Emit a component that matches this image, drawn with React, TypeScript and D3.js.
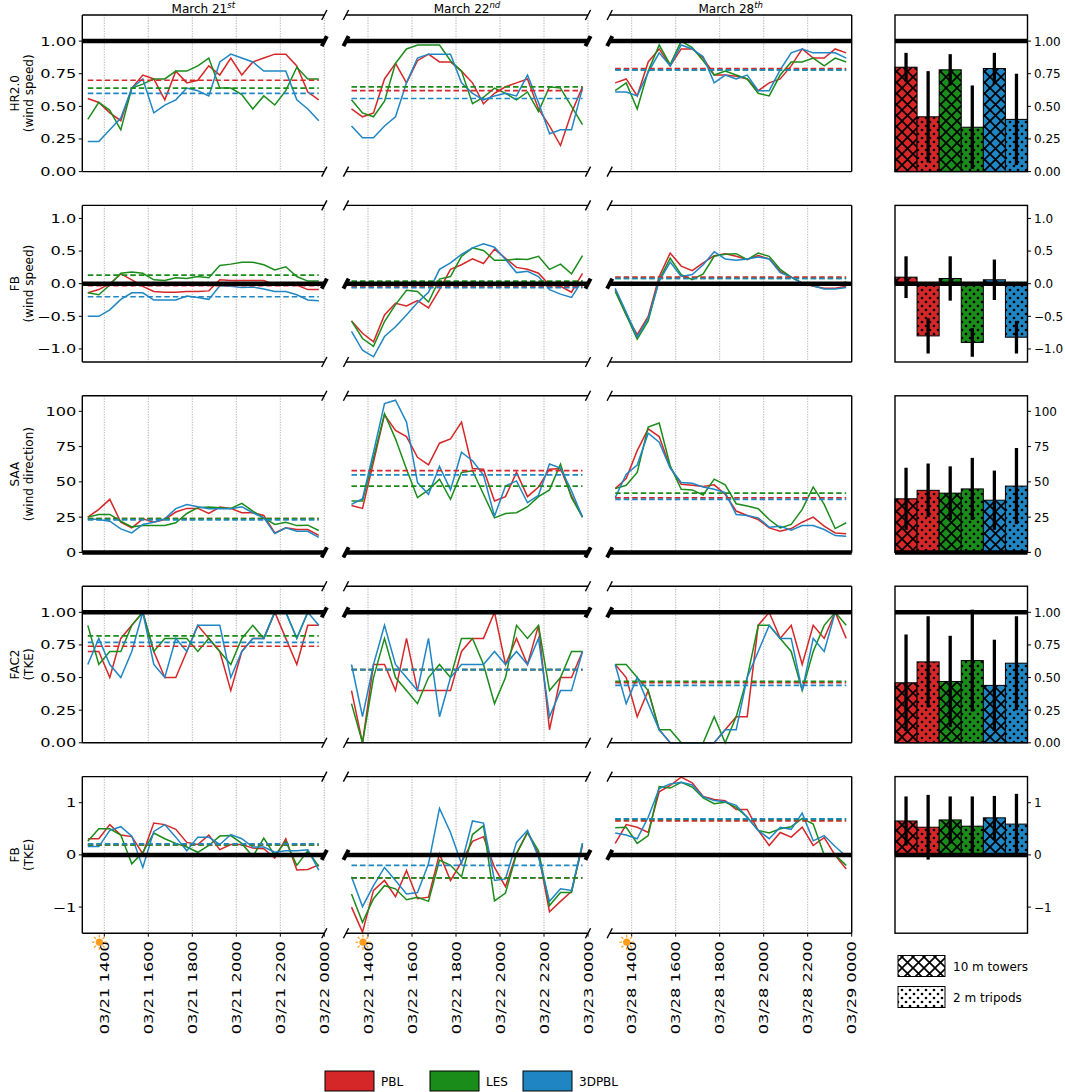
import React from "react";
import * as d3 from "d3";

// ---- data ----
const models = ["PBL", "LES", "3DPBL"];
const modelColors = ["#d62728", "#1a8c1a", "#1f86c3"];
const dayTitles = [["March 21", "st"], ["March 22", "nd"], ["March 28", "th"]];
const tickHours = [14, 16, 18, 20, 22, 24];
const tickLabels = [
  ["03/21 1400", "03/21 1600", "03/21 1800", "03/21 2000", "03/21 2200", "03/22 0000"],
  ["03/22 1400", "03/22 1600", "03/22 1800", "03/22 2000", "03/22 2200", "03/23 0000"],
  ["03/28 1400", "03/28 1600", "03/28 1800", "03/28 2000", "03/28 2200", "03/29 0000"],
];
// half-hourly samples, 13:15 .. 23:45
const sampleHours = d3.range(22).map((i) => 13.25 + 0.5 * i);

const metricNames = [
  ["HR2.0", "(wind speed)"],
  ["FB", "(wind speed)"],
  ["SAA", "(wind direction)"],
  ["FAC2", "(TKE)"],
  ["FB", "(TKE)"],
];
const metricDomains = [[0, 1.2], [-1.2, 1.2], [0, 111], [0, 1.2], [-1.5, 1.5]];
const metricTicks = [
  [0, 0.25, 0.5, 0.75, 1],
  [-1, -0.5, 0, 0.5, 1],
  [0, 25, 50, 75, 100],
  [0, 0.25, 0.5, 0.75, 1],
  [-1, 0, 1],
];
const metricFormats = [".2f", ".1f", "d", ".2f", "d"];
const refValues = [1, 0, 0, 1, 0];

// HR2.0 (wind speed), days 21 / 22 / 28
const hrWindPBL = [
  [0.56, 0.53, 0.45, 0.39, 0.64, 0.74, 0.71, 0.55, 0.77, 0.68, 0.7, 0.81, 0.74, 0.87, 0.74, 0.84, 0.87, 0.9, 0.9, 0.81, 0.61, 0.55],
  [0.48, 0.42, 0.45, 0.71, 0.83, 0.68, 0.85, 0.9, 0.84, 0.84, 0.77, 0.68, 0.52, 0.6, 0.65, 0.68, 0.71, 0.48, 0.35, 0.2, 0.45, 0.65],
  [0.68, 0.71, 0.58, 0.84, 0.94, 0.81, 0.94, 0.94, 0.87, 0.74, 0.74, 0.73, 0.71, 0.62, 0.68, 0.71, 0.81, 0.94, 0.87, 0.87, 0.94, 0.91],
];
const hrWindLES = [
  [0.4, 0.53, 0.47, 0.32, 0.64, 0.67, 0.71, 0.71, 0.77, 0.77, 0.81, 0.87, 0.64, 0.64, 0.59, 0.48, 0.58, 0.51, 0.62, 0.8, 0.71, 0.71],
  [0.55, 0.45, 0.42, 0.54, 0.83, 0.94, 0.97, 0.97, 0.97, 0.85, 0.77, 0.52, 0.57, 0.64, 0.6, 0.55, 0.61, 0.46, 0.65, 0.64, 0.5, 0.36],
  [0.62, 0.68, 0.48, 0.77, 0.97, 0.82, 1.0, 0.95, 0.85, 0.74, 0.77, 0.74, 0.71, 0.6, 0.58, 0.74, 0.84, 0.84, 0.87, 0.81, 0.87, 0.84],
];
const hrWind3D = [
  [0.23, 0.23, 0.32, 0.41, 0.64, 0.71, 0.45, 0.51, 0.55, 0.64, 0.62, 0.58, 0.84, 0.9, 0.87, 0.84, 0.77, 0.77, 0.77, 0.55, 0.48, 0.39],
  [0.35, 0.26, 0.26, 0.35, 0.42, 0.68, 0.87, 0.9, 0.9, 0.9, 0.68, 0.6, 0.55, 0.58, 0.6, 0.58, 0.74, 0.53, 0.29, 0.32, 0.32, 0.64],
  [0.61, 0.61, 0.58, 0.76, 0.91, 0.81, 0.97, 0.94, 0.88, 0.68, 0.74, 0.71, 0.74, 0.62, 0.62, 0.78, 0.91, 0.94, 0.91, 0.91, 0.91, 0.87],
];
const hrWindMeans = [[0.7, 0.62, 0.79], [0.64, 0.65, 0.78], [0.6, 0.56, 0.78]];

// FB (wind speed)
const fbWindPBL = [
  [-0.14, -0.09, 0.0, 0.15, 0.06, -0.04, -0.12, -0.13, -0.13, -0.12, -0.12, -0.11, 0.06, 0.05, 0.05, 0.05, 0.05, -0.02, 0.01, -0.02, -0.09, -0.09],
  [-0.57, -0.76, -0.89, -0.48, -0.3, -0.34, -0.26, -0.37, -0.09, 0.22, 0.29, 0.38, 0.31, 0.53, 0.39, 0.25, 0.22, 0.16, -0.02, -0.04, -0.13, 0.16],
  [-0.09, -0.48, -0.78, -0.5, 0.11, 0.47, 0.27, 0.2, 0.32, 0.43, 0.46, 0.42, 0.37, 0.43, 0.38, 0.19, 0.1, 0.01, -0.04, -0.07, -0.07, -0.04],
];
const fbWindLES = [
  [-0.14, -0.17, -0.02, 0.16, 0.18, 0.16, 0.06, 0.05, 0.09, 0.08, 0.11, 0.09, 0.28, 0.3, 0.33, 0.33, 0.29, 0.21, 0.26, 0.11, 0.04, 0.04],
  [-0.57, -0.84, -0.96, -0.58, -0.32, -0.1, -0.12, -0.28, 0.07, 0.11, 0.42, 0.55, 0.51, 0.36, 0.36, 0.38, 0.37, 0.42, 0.22, 0.3, 0.15, 0.43],
  [-0.12, -0.48, -0.85, -0.57, 0.06, 0.39, 0.14, 0.06, 0.15, 0.42, 0.45, 0.46, 0.37, 0.47, 0.42, 0.22, 0.1, 0.01, -0.03, -0.02, -0.02, 0.03],
];
const fbWind3D = [
  [-0.5, -0.5, -0.4, -0.24, -0.14, -0.14, -0.25, -0.25, -0.25, -0.19, -0.21, -0.24, -0.03, -0.04, -0.06, -0.05, -0.08, -0.12, -0.12, -0.17, -0.25, -0.26],
  [-0.73, -1.02, -1.12, -0.81, -0.66, -0.48, -0.29, -0.13, 0.22, 0.32, 0.45, 0.55, 0.61, 0.56, 0.37, 0.17, 0.19, 0.11, -0.09, -0.16, -0.21, 0.05],
  [-0.07, -0.44, -0.81, -0.53, 0.04, 0.33, 0.11, 0.14, 0.29, 0.49, 0.38, 0.36, 0.38, 0.41, 0.38, 0.17, 0.1, 0.01, -0.03, -0.08, -0.08, -0.06],
];
const fbWindMeans = [[-0.03, -0.05, 0.1], [0.13, 0.04, 0.08], [-0.2, -0.06, 0.08]];

// SAA (wind direction)
const saaPBL = [
  [25, 30.5, 37.6, 21.4, 17.4, 23.8, 21.4, 23.3, 28.6, 31.2, 31.2, 27.6, 32.1, 31.2, 28.1, 28.1, 26.2, 13.8, 17.4, 16.2, 16.2, 12.1],
  [33.3, 31.2, 64, 97.6, 86.4, 82.1, 67.4, 62.1, 77.4, 80.5, 92.4, 59.5, 59, 36.4, 39.5, 56.7, 39.5, 46.4, 59, 59.5, 40, 25],
  [45.2, 52.4, 72.1, 87.6, 82.1, 60.2, 48.3, 47.6, 46.7, 47.9, 41.2, 29.3, 26.2, 23.3, 17.4, 15, 16.9, 21.4, 25, 18.6, 13.8, 13.3],
];
const saaLES = [
  [25, 26.9, 26.9, 22.1, 18.1, 19, 19, 19, 21, 27.6, 31.7, 32.1, 31.7, 31.2, 34.8, 29.3, 24.5, 19.8, 21.4, 19, 19.3, 15.5],
  [36.4, 36.4, 67, 98.3, 80.5, 59, 38.8, 44.3, 51.9, 37.6, 56.7, 57.9, 41.2, 24.5, 27.6, 28.1, 32.4, 39.5, 44.3, 62.6, 38.8, 25],
  [45.2, 47.6, 56.7, 88.8, 91.7, 61.4, 44.8, 44.3, 40.7, 51.9, 47.9, 34.5, 32.9, 31, 23.3, 17.4, 19.8, 30.5, 46.4, 34, 16.9, 21],
];
const saa3D = [
  [23.8, 23.3, 22.1, 16.7, 13.8, 19.8, 21.4, 23.8, 31, 34, 32.4, 31, 31, 31, 32.4, 28.1, 24.5, 13.3, 17.4, 15, 15, 10.7],
  [34, 38.1, 71, 105.5, 107.9, 92.4, 49.5, 41.2, 61, 44.3, 71, 65, 54.8, 25.7, 47.1, 50.7, 35.2, 40.5, 62.6, 59.8, 43.6, 25],
  [38.8, 55.5, 61.9, 84.5, 78.1, 59.8, 49.5, 49, 46.4, 44.8, 42.4, 26.9, 26.2, 24.5, 17.9, 18.6, 15.7, 19, 19, 16.2, 11.9, 11.4],
];
const saaMeans = [[24, 58, 38.6], [24, 47, 42], [23, 55, 37.6]];

// FAC2 (TKE)
const fac2PBL = [
  [0.7, 0.7, 0.5, 0.8, 0.9, 1.0, 0.7, 0.5, 0.5, 0.7, 0.9, 0.8, 0.7, 0.4, 0.7, 0.8, 0.8, 1.0, 0.8, 0.6, 0.9, 0.9],
  [0.4, 0.0, 0.6, 0.6, 0.4, 0.8, 0.4, 0.4, 0.4, 0.4, 0.7, 0.8, 0.8, 1.0, 0.6, 0.8, 0.6, 0.9, 0.1, 0.5, 0.5, 0.7],
  [0.6, 0.5, 0.2, 0.4, 0.1, 0.0, 0.0, 0.0, 0.0, 0.0, 0.1, 0.2, 0.2, 0.9, 1.0, 0.8, 0.9, 0.6, 0.9, 0.8, 1.0, 0.8],
];
const fac2LES = [
  [0.9, 0.6, 0.7, 0.7, 0.9, 1.0, 0.7, 0.8, 0.8, 0.8, 0.7, 0.8, 0.7, 0.6, 0.8, 0.9, 0.8, 1.0, 1.0, 0.8, 1.0, 1.0],
  [0.3, 0.0, 0.5, 0.8, 0.5, 0.4, 0.3, 0.5, 0.6, 0.5, 0.8, 0.8, 0.6, 0.3, 0.5, 0.9, 0.8, 0.9, 0.4, 0.5, 0.7, 0.7],
  [0.6, 0.6, 0.5, 0.4, 0.1, 0.1, 0.0, 0.0, 0.0, 0.2, 0.0, 0.2, 0.5, 0.9, 0.9, 0.8, 0.7, 0.4, 0.7, 0.9, 1.0, 0.9],
];
const fac23D = [
  [0.6, 0.8, 0.6, 0.5, 0.7, 1.0, 0.6, 0.5, 0.8, 0.7, 0.9, 0.9, 0.9, 0.5, 0.7, 0.8, 0.8, 1.0, 1.0, 0.8, 1.0, 0.9],
  [0.6, 0.2, 0.6, 0.9, 0.6, 0.5, 0.4, 0.8, 0.2, 0.5, 0.6, 0.6, 0.6, 0.7, 0.6, 0.7, 0.6, 0.8, 0.2, 0.4, 0.4, 0.7],
  [0.6, 0.3, 0.5, 0.3, 0.1, 0.0, 0.0, 0.0, 0.0, 0.0, 0.1, 0.1, 0.5, 0.7, 0.9, 0.8, 0.8, 0.4, 0.8, 0.7, 1.0, 1.0],
];
const fac2Means = [[0.74, 0.56, 0.46], [0.82, 0.56, 0.47], [0.77, 0.56, 0.44]];

// FB (TKE)
const fbTkePBL = [
  [0.31, 0.31, 0.58, 0.38, 0.35, 0.02, 0.61, 0.58, 0.49, 0.24, 0.2, 0.38, 0.1, 0.2, 0.2, 0.13, 0.12, -0.06, 0.31, -0.29, -0.28, -0.19],
  [-1.0, -1.48, -0.68, -0.49, -0.8, -0.3, -0.84, -0.81, 0.02, -0.49, -0.14, 0.26, 0.35, -0.24, -0.61, 0.03, 0.43, 0.02, -1.09, -0.89, -0.7, 0.18],
  [0.22, 0.58, 0.53, 0.43, 1.21, 1.33, 1.49, 1.38, 1.12, 1.06, 1.04, 0.87, 0.87, 0.47, 0.18, 0.43, 0.34, 0.53, 0.18, 0.33, -0.01, -0.27],
];
const fbTkeLES = [
  [0.26, 0.5, 0.5, 0.38, -0.17, 0.05, 0.42, 0.31, 0.22, 0.15, 0.05, 0.18, 0.36, 0.37, 0.22, -0.03, 0.32, -0.01, 0.26, -0.2, 0.08, -0.22],
  [-0.75, -1.29, -0.84, -0.59, -0.65, -0.86, -0.81, -0.89, -0.1, -0.2, -0.42, 0.39, 0.56, -0.88, -0.73, 0.02, 0.43, 0.08, -0.97, -0.72, -0.72, 0.22],
  [0.52, 0.53, 0.22, 0.37, 1.31, 1.28, 1.39, 1.3, 1.09, 0.98, 1.01, 0.91, 0.72, 0.47, 0.42, 0.5, 0.54, 0.7, 0.59, 0.0, 0.0, -0.2],
];
const fbTke3D = [
  [0.16, 0.16, 0.47, 0.54, 0.36, -0.24, 0.45, 0.58, 0.34, 0.08, 0.34, 0.34, 0.2, 0.39, 0.31, 0.15, 0.15, 0.05, 0.08, 0.08, 0.1, -0.29],
  [-0.42, -0.99, -0.59, -0.24, -0.49, -0.75, -0.72, -0.17, 0.89, 0.43, -0.17, 0.65, 0.61, -0.49, -0.46, 0.24, 0.47, -0.04, -0.89, -0.65, -0.68, 0.22],
  [0.42, 0.38, 0.31, 0.72, 1.27, 1.36, 1.39, 1.34, 1.11, 1.04, 1.02, 0.95, 0.72, 0.47, 0.31, 0.53, 0.49, 0.8, 0.27, 0.37, 0.16, -0.03],
];
const fbTkeMeans = [[0.19, -0.44, 0.65], [0.19, -0.44, 0.68], [0.21, -0.2, 0.69]];

// summary bars: per model [10 m towers, 2 m tripods]
const hrWindBars = [[0.8, 0.42], [0.78, 0.34], [0.79, 0.4]];
const hrWindErr = [[0.11, 0.35], [0.12, 0.32], [0.12, 0.35]];
const fbWindBars = [[0.1, -0.8], [0.08, -0.9], [0.06, -0.82]];
const fbWindErr = [[0.32, 0.27], [0.34, 0.22], [0.31, 0.25]];
const saaBars = [[38, 44], [42, 45], [37, 47]];
const saaErr = [[22, 19], [19, 22], [21, 27]];
const fac2Bars = [[0.46, 0.62], [0.47, 0.63], [0.44, 0.61]];
const fac2Err = [[0.37, 0.35], [0.35, 0.39], [0.35, 0.36]];
const fbTkeBars = [[0.65, 0.53], [0.67, 0.55], [0.71, 0.59]];
const fbTkeErr = [[0.47, 0.62], [0.45, 0.57], [0.42, 0.58]];
const siteNames = ["10 m towers", "2 m tripods"];

const metricSeries = [
  [hrWindPBL, hrWindLES, hrWind3D],
  [fbWindPBL, fbWindLES, fbWind3D],
  [saaPBL, saaLES, saa3D],
  [fac2PBL, fac2LES, fac23D],
  [fbTkePBL, fbTkeLES, fbTke3D],
];
const metricMeans = [hrWindMeans, fbWindMeans, saaMeans, fac2Means, fbTkeMeans];
const metricBars = [hrWindBars, fbWindBars, saaBars, fac2Bars, fbTkeBars];
const metricErr = [hrWindErr, fbWindErr, saaErr, fac2Err, fbTkeErr];

// ---- layout ----
const W = 1065;
const H = 1092;
const colX = [82.3, 346, 609.7];
const panelW = 242;
const barX = 895;
const barW = 132.5;
const rowTop = (r: number) => 15 + 190.4 * r;
const rowH = 156.6;
const font = "DejaVu Sans";
const stretch = 1.35; // tick labels on the left / bottom are drawn wide

function minus(s: string) {
  return s.replace("-", "\u2212");
}

function BreakMark({ x, y, w }: { x: number; y: number; w: number }) {
  return <line x1={x - 2.6} y1={y + 5} x2={x + 2.6} y2={y - 5} stroke="#000" strokeWidth={w} />;
}

function Sun({ cx, cy }: { cx: number; cy: number }) {
  const rays = d3.range(8).map((k) => (k * Math.PI) / 4);
  return (
    <g>
      {rays.map((a, k) => (
        <line key={k} x1={cx + Math.cos(a) * 4.8} y1={cy + Math.sin(a) * 4.8}
          x2={cx + Math.cos(a) * 7.5} y2={cy + Math.sin(a) * 7.5}
          stroke="#ff9c1a" strokeWidth={1.2} />
      ))}
      <circle cx={cx} cy={cy} r={3.6} fill="#ff9c1a" />
    </g>
  );
}

function LinePanel({ r, c }: { r: number; c: number }) {
  const top = rowTop(r);
  const bottom = top + rowH;
  const x0 = colX[c];
  const x1 = x0 + panelW;
  const x = d3.scaleLinear().domain([13, 24]).range([x0, x1]);
  const y = d3.scaleLinear().domain(metricDomains[r]).range([bottom, top]);
  const line = d3.line<number>().x((_, i) => x(sampleHours[i])).y((v) => y(v));
  const refY = y(refValues[r]);
  const fmt = d3.format(metricFormats[r]);
  const last = r === metricNames.length - 1;

  return (
    <g>
      {tickHours.map((h) => (
        <line key={h} x1={x(h)} x2={x(h)} y1={top} y2={bottom}
          stroke="#999" strokeWidth={0.8} strokeDasharray="1.2,1.4" />
      ))}
      {metricSeries[r].map((series, m) => (
        <path key={m} d={line(series[c]) || ""} fill="none"
          stroke={modelColors[m]} strokeWidth={1.5} />
      ))}
      {metricMeans[r].map((means, m) => (
        <line key={m} x1={x(sampleHours[0])} x2={x(sampleHours[sampleHours.length - 1])}
          y1={y(means[c])} y2={y(means[c])} stroke={modelColors[m]}
          strokeWidth={1.7} strokeDasharray="5.5,3" />
      ))}
      <line x1={x0} x2={x1} y1={refY} y2={refY} stroke="#000" strokeWidth={4.5} />
      <line x1={x0} x2={x1} y1={top} y2={top} stroke="#000" strokeWidth={1.4} />
      <line x1={x0} x2={x1} y1={bottom} y2={bottom} stroke="#000" strokeWidth={1.4} />
      {c === 0 && <line x1={x0} x2={x0} y1={top} y2={bottom} stroke="#000" strokeWidth={1.4} />}
      {c === 2 && <line x1={x1} x2={x1} y1={top} y2={bottom} stroke="#000" strokeWidth={1.4} />}
      {c < 2 && (
        <g>
          <BreakMark x={x1} y={top} w={1.4} />
          <BreakMark x={x1} y={bottom} w={1.4} />
          <BreakMark x={x1} y={refY} w={4} />
        </g>
      )}
      {c > 0 && (
        <g>
          <BreakMark x={x0} y={top} w={1.4} />
          <BreakMark x={x0} y={bottom} w={1.4} />
          <BreakMark x={x0} y={refY} w={4} />
        </g>
      )}
      {c === 0 &&
        metricTicks[r].map((t) => (
          <g key={t}>
            <line x1={x0 - 3.5} x2={x0} y1={y(t)} y2={y(t)} stroke="#000" strokeWidth={1} />
            <text transform={`translate(${x0 - 6},${y(t) + 4.4}) scale(${stretch},1)`}
              textAnchor="end" fontSize={12} fontFamily={font}>{minus(fmt(t))}</text>
          </g>
        ))}
      {r === 0 && (
        <text x={(x0 + x1) / 2} y={12.5} textAnchor="middle" fontSize={12} fontFamily={font}>
          {dayTitles[c][0]}
          <tspan fontSize={8.5} fontStyle="italic" dy={-4.5}>{dayTitles[c][1]}</tspan>
        </text>
      )}
      {last && (
        <g>
          {tickHours.map((h, k) => (
            <g key={h}>
              <line x1={x(h)} x2={x(h)} y1={bottom} y2={bottom + 3.5} stroke="#000" strokeWidth={1} />
              <text transform={`translate(${x(h) + 4.5},${bottom + 8}) rotate(-90) scale(${stretch},1)`}
                textAnchor="end" fontSize={12} fontFamily={font}>{tickLabels[c][k]}</text>
            </g>
          ))}
          <Sun cx={x(14) - 5} cy={bottom + 9} />
        </g>
      )}
    </g>
  );
}

function BarPanel({ r }: { r: number }) {
  const top = rowTop(r);
  const bottom = top + rowH;
  const keys = d3.range(6);
  const x = d3.scaleBand<number>().domain(keys).range([barX, barX + barW]).padding(0);
  const y = d3.scaleLinear().domain(metricDomains[r]).range([bottom, top]);
  const fmt = d3.format(metricFormats[r]);
  const base = y(Math.max(0, metricDomains[r][0]));
  const bars = keys.map((k) => {
    const m = Math.floor(k / 2);
    const s = k % 2;
    return { k, m, s, v: metricBars[r][m][s], e: metricErr[r][m][s] };
  });
  const refY = y(refValues[r]);

  return (
    <g>
      {bars.map((b) => (
        <rect key={b.k} x={x(b.k)} width={x.bandwidth()}
          y={Math.min(y(b.v), base)} height={Math.abs(y(b.v) - base)}
          fill={`url(#${b.s === 0 ? "cross" : "dots"}-${b.m})`} stroke="#000" strokeWidth={1} />
      ))}
      {bars.map((b) => (
        <line key={b.k} x1={(x(b.k) || 0) + x.bandwidth() / 2} x2={(x(b.k) || 0) + x.bandwidth() / 2}
          y1={y(b.v - b.e)} y2={y(b.v + b.e)} stroke="#000" strokeWidth={3.3} />
      ))}
      <line x1={barX} x2={barX + barW} y1={refY} y2={refY} stroke="#000" strokeWidth={4.5} />
      <rect x={barX} y={top} width={barW} height={rowH} fill="none" stroke="#000" strokeWidth={1.4} />
      {metricTicks[r].map((t) => (
        <g key={t}>
          <line x1={barX + barW} x2={barX + barW + 3.5} y1={y(t)} y2={y(t)} stroke="#000" strokeWidth={1} />
          <text x={barX + barW + 6.5} y={y(t) + 4.4} fontSize={12} fontFamily={font}>{minus(fmt(t))}</text>
        </g>
      ))}
    </g>
  );
}

function Patterns() {
  const fills = [...modelColors, "#ffffff"];
  const ids = ["0", "1", "2", "legend"];
  return (
    <defs>
      {fills.map((f, i) => (
        <g key={i}>
          <pattern id={`cross-${ids[i]}`} width={11} height={11} patternUnits="userSpaceOnUse">
            <rect width={11} height={11} fill={f} />
            <path d="M-1,-1L12,12M12,-1L-1,12" stroke="#000" strokeWidth={1.7} />
          </pattern>
          <pattern id={`dots-${ids[i]}`} width={8} height={8} patternUnits="userSpaceOnUse">
            <rect width={8} height={8} fill={f} />
            <circle cx={2} cy={2} r={1.35} fill="#000" />
            <circle cx={6} cy={6} r={1.35} fill="#000" />
          </pattern>
        </g>
      ))}
    </defs>
  );
}

export default function App() {
  const legendX = [325, 430, 523];
  return (
    <div style={{ position: "absolute", left: 0, top: 0, background: "#fff" }}>
      <svg width={W} height={H} viewBox={`0 0 ${W} ${H}`} style={{ display: "block" }}>
        <Patterns />
        <rect width={W} height={H} fill="#fff" />
        {metricNames.map((name, r) => {
          const cy = rowTop(r) + rowH / 2;
          return (
            <g key={r}>
              <text transform={`translate(19,${cy}) rotate(-90)`} textAnchor="middle"
                fontSize={12} fontFamily={font}>{name[0]}</text>
              <text transform={`translate(33,${cy}) rotate(-90)`} textAnchor="middle"
                fontSize={12} fontFamily={font}>{name[1]}</text>
              {[0, 1, 2].map((c) => <LinePanel key={c} r={r} c={c} />)}
              <BarPanel r={r} />
            </g>
          );
        })}
        {models.map((m, i) => (
          <g key={m}>
            <rect x={legendX[i]} y={1071} width={49} height={20} fill={modelColors[i]} stroke="#000" strokeWidth={1} />
            <text x={legendX[i] + 56} y={1086} fontSize={12} fontFamily={font}>{m}</text>
          </g>
        ))}
        {siteNames.map((s, i) => (
          <g key={s}>
            <rect x={898} y={955.5 + 31 * i} width={47} height={21}
              fill={`url(#${i === 0 ? "cross" : "dots"}-legend)`} stroke="#000" strokeWidth={1} />
            <text x={953} y={970.5 + 31 * i} fontSize={12} fontFamily={font}>{s}</text>
          </g>
        ))}
      </svg>
    </div>
  );
}
